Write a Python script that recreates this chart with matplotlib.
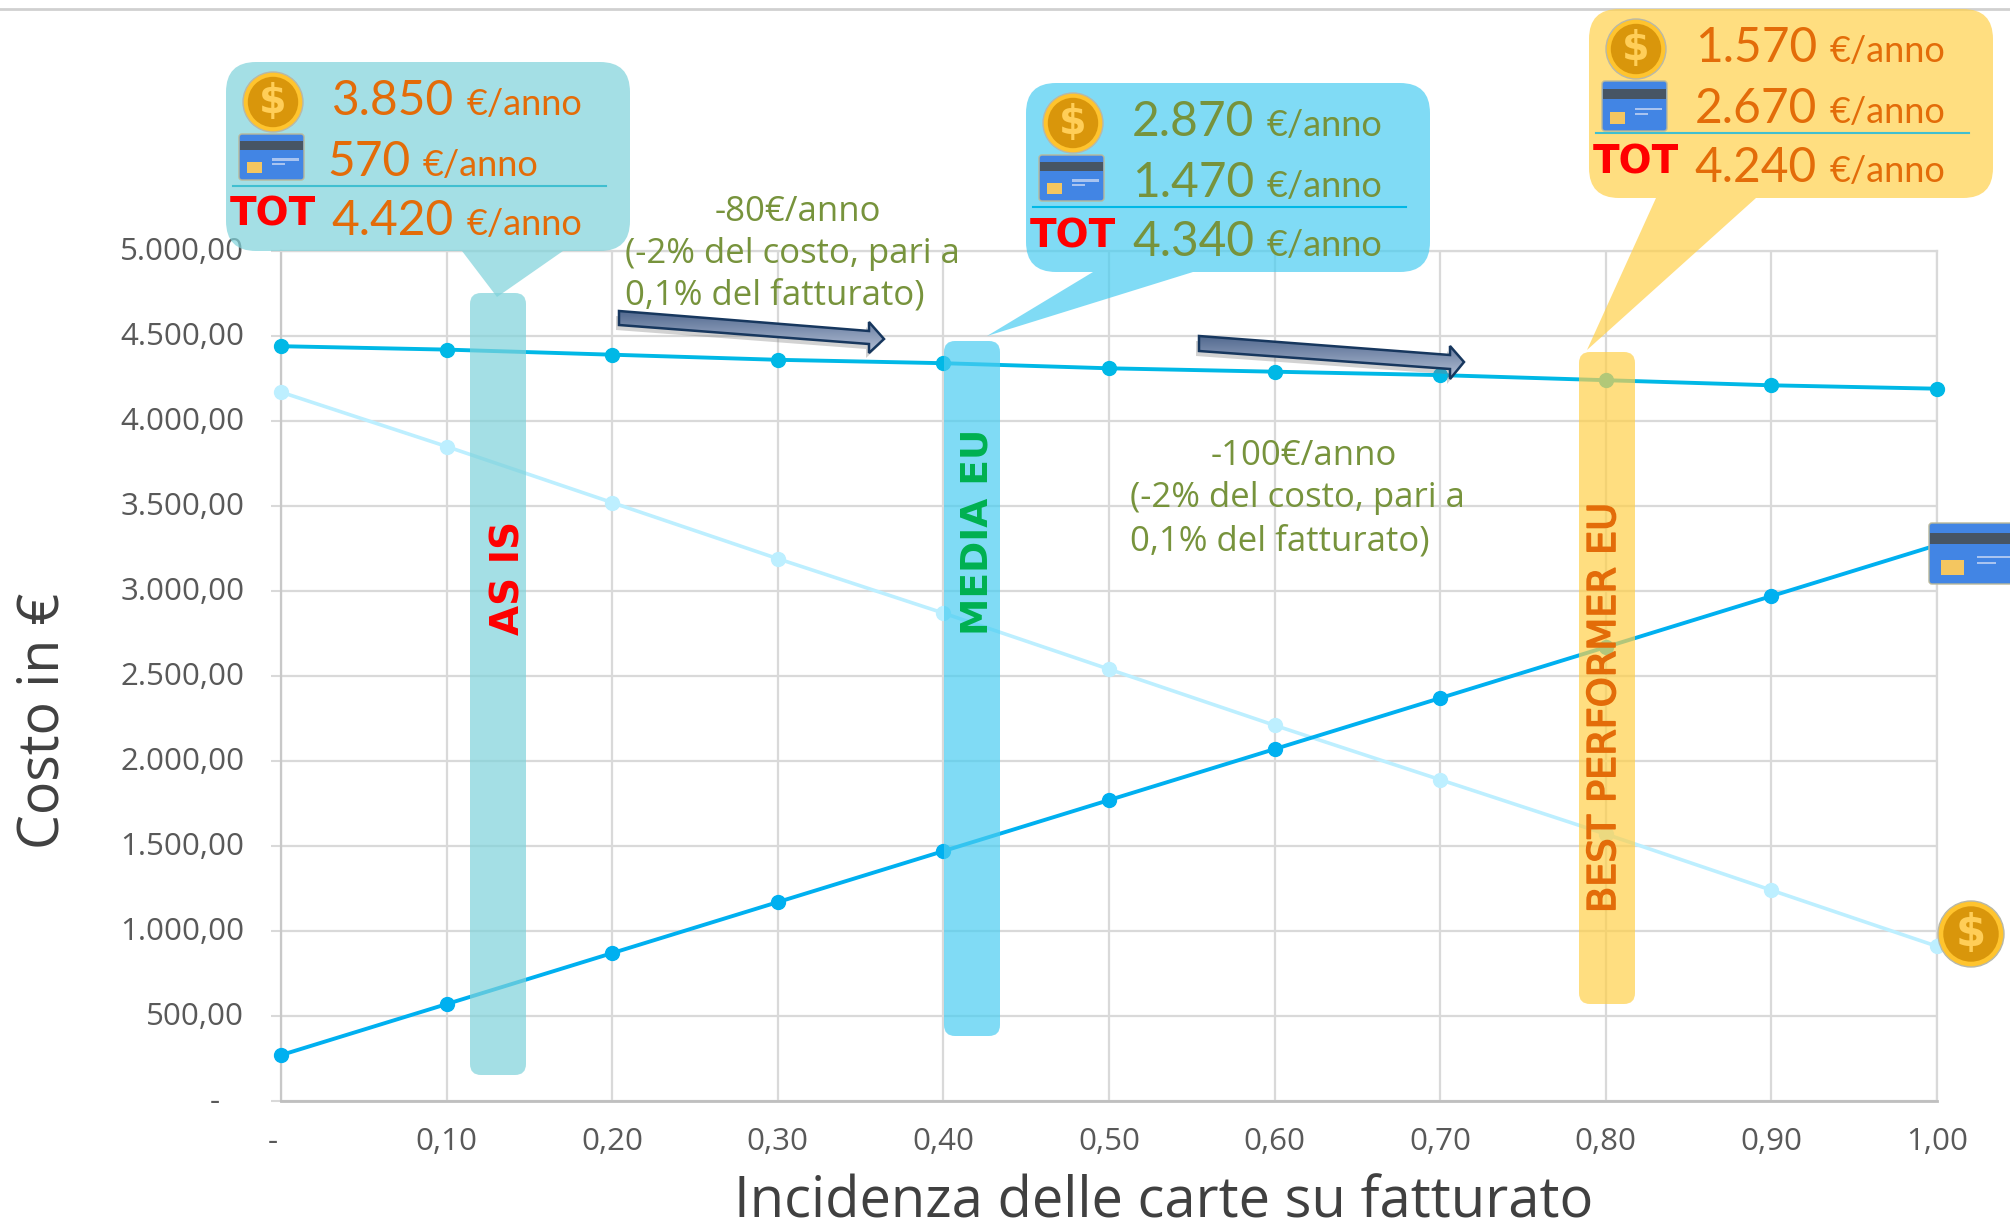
import numpy as np
import matplotlib
matplotlib.use("Agg")
import matplotlib.pyplot as plt
import matplotlib.patheffects as pe
from matplotlib.patches import Circle, FancyBboxPatch, Polygon, Rectangle
from matplotlib.transforms import ScaledTranslation

# Data
incidenza = [0, 0.10, 0.20, 0.30, 0.40, 0.50, 0.60, 0.70, 0.80, 0.90, 1.00]
costo_carte = [270, 570, 870, 1170, 1470, 1770, 2070, 2370, 2670, 2970, 3270]
costo_contanti = [4170, 3850, 3520, 3190, 2870, 2540, 2210, 1890, 1570, 1240, 910]
costo_totale = [4440, 4420, 4390, 4360, 4340, 4310, 4290, 4270, 4240, 4210, 4190]

x_ticks = [0, 0.10, 0.20, 0.30, 0.40, 0.50, 0.60, 0.70, 0.80, 0.90, 1.00]
x_labels = ["-  ", "0,10", "0,20", "0,30", "0,40", "0,50", "0,60", "0,70", "0,80", "0,90", "1,00"]
y_ticks = [0, 500, 1000, 1500, 2000, 2500, 3000, 3500, 4000, 4500, 5000]
y_labels = ["-   ", "500,00", "1.000,00", "1.500,00", "2.000,00", "2.500,00",
            "3.000,00", "3.500,00", "4.000,00", "4.500,00", "5.000,00"]

W, H = 2010, 1224
SANS = ["Open Sans", "DejaVu Sans"]
BODY = ["Lato", "DejaVu Sans"]
COMIC = ["DejaVu Sans", "Liberation Sans"]
ORANGE = "#E36C09"
GREEN = "#77933C"

fig = plt.figure(figsize=(W / 100, H / 100), dpi=100, facecolor="white")
ax = fig.add_axes([281 / W, 1 - 1101 / H, (1937 - 281) / W, 850 / H])

ax.plot(incidenza, costo_contanti, color="#BDEFFF", lw=2.6, marker="o", ms=10, clip_on=False, zorder=3)
ax.plot(incidenza, costo_totale, color="#00B8E6", lw=2.8, marker="o", ms=10, clip_on=False, zorder=4)
ax.plot(incidenza, costo_carte, color="#00B0F0", lw=2.8, marker="o", ms=10, clip_on=False, zorder=4)

ax.set_xlim(0, 1)
ax.set_ylim(0, 5000)
ax.set_xticks(x_ticks, x_labels, family=SANS, fontsize=22.5, color="#595959")
ax.set_yticks(y_ticks, y_labels, family=SANS, fontsize=22.5, color="#595959")
ax.tick_params(axis="x", length=0, pad=19)
ax.tick_params(axis="y", length=7, width=1.5, color="#D9D9D9", pad=19.5)
# y labels sit a little above their gridlines
for lab in ax.get_yticklabels():
    lab.set_transform(lab.get_transform() + ScaledTranslation(0, 2 / 72, fig.dpi_scale_trans))
ax.grid(True, color="#D9D9D9", lw=1.6)
ax.set_axisbelow(True)
for name in ["top", "right"]:
    ax.spines[name].set_color("#D9D9D9")
    ax.spines[name].set_linewidth(1.6)
ax.spines["left"].set_color("#C8C8C8")
ax.spines["left"].set_linewidth(1.6)
ax.spines["bottom"].set_color("#BFBFBF")
ax.spines["bottom"].set_linewidth(2)

# Overlay in pixels for the slide shapes
ov = fig.add_axes([0, 0, 1, 1], facecolor="none")
ov.set_xlim(0, W)
ov.set_ylim(H, 0)
ov.axis("off")


def rounded(x0, y0, x1, y1, r, color, alpha=0.7, z=5):
    ov.add_patch(FancyBboxPatch((x0 + r, y0 + r), x1 - x0 - 2 * r, y1 - y0 - 2 * r,
                                boxstyle="round,pad=%d,rounding_size=%d" % (r, r),
                                fc=color, ec="none", alpha=alpha, zorder=z))


def draw_coin(cx, cy, r, z=8):
    ov.add_patch(Circle((cx, cy), r, fc="#FFC42E", ec="#B8B8A8", lw=1, zorder=z))
    ov.add_patch(Circle((cx, cy), r * 0.84, fc="#D9960B", ec="none", zorder=z))
    ov.text(cx, cy, "$", color="#FFCE58", fontsize=r * 0.95, weight="bold", ha="center", va="center",
            family="DejaVu Sans", zorder=z + 1)


def draw_card(x, y, w, h, z=8):
    ov.add_patch(FancyBboxPatch((x + 3, y + 3), w - 6, h - 6, boxstyle="round,pad=3,rounding_size=3",
                                fc="#4285E4", ec="#B9B89A", lw=1, zorder=z))
    ov.add_patch(Rectangle((x + 1, y + h * 0.16), w - 2, h * 0.19, fc="#475564", ec="none", zorder=z))
    ov.add_patch(Rectangle((x + w * 0.13, y + h * 0.61), w * 0.23, h * 0.24, fc="#F4C660", ec="none", zorder=z))
    for off, length in [(0.55, 0.42), (0.65, 0.2)]:
        ov.add_patch(Rectangle((x + w * 0.5, y + h * off - 1), w * length, 2.5, fc="#A9C4F0", ec="none", zorder=z))


def bubble(x0, y0, color, tail, values, text_color, line_color, card_h=46):
    rounded(x0, y0, x0 + 404, y0 + 189, 30, color, z=6)
    ov.add_patch(Polygon(tail, closed=True, fc=color, ec="none", alpha=0.7, zorder=6))
    draw_coin(x0 + 47, y0 + 40, 30)
    draw_card(x0 + 13, y0 + 72, 65, card_h)
    ov.plot([x0 + 7, x0 + 380], [y0 + 124, y0 + 124], color=line_color, lw=1.5, zorder=8)
    ov.text(x0 + 47, y0 + 164, "TOT", color="#FF0000", fontsize=28, weight="bold", ha="center",
            va="baseline", family=COMIC, zorder=9)
    for base, val in zip([53, 114, 173], values):
        # the short value sits left with its unit pulled in
        shift = 44 if len(val) == 3 else 0
        ov.text(x0 + 228 - shift, y0 + base, val, color=text_color, fontsize=34.5, ha="right", va="baseline",
                family=BODY, zorder=9)
        ov.text(x0 + 241 - shift, y0 + base, "€/anno", color=text_color, fontsize=26, ha="left", va="baseline",
                family=BODY, zorder=9)


def arrow(pts, box):
    poly = Polygon(pts, closed=True, fc="none", ec="#17375E", lw=1.8, zorder=8)
    shadow = Polygon(np.array(pts) + [-3, 5], closed=True, fc="#808080", ec="none", alpha=0.35, zorder=7)
    ov.add_patch(shadow)
    ov.add_patch(poly)
    grad = np.linspace(0, 1, 64).reshape(-1, 1)
    im = ov.imshow(grad, extent=box, cmap=matplotlib.colors.LinearSegmentedColormap.from_list(
        "arr", ["#536A90", "#B4C0D6"]), aspect="auto", zorder=7.5)
    im.set_clip_path(poly)


# Vertical strips
rounded(470, 293, 526, 1075, 11, "#7ED2DA")
rounded(944, 341, 1000, 1036, 11, "#4ACDF1")
rounded(1579, 352, 1635, 1004, 11, "#FFD04A")

ov.text(509, 635, "AS IS", color="#FF0000", fontsize=28, weight="bold", rotation=90, ha="center",
        va="bottom", family=COMIC, zorder=9)
ov.text(978, 635, "MEDIA EU", color="#00B050", fontsize=27, weight="bold", rotation=90, ha="center",
        va="bottom", family=COMIC, zorder=9)
ov.text(1605, 913, "BEST PERFORMER EU", color=ORANGE, fontsize=27.5, rotation=90, ha="center",
        va="bottom", family=COMIC, zorder=9,
        path_effects=[pe.withStroke(linewidth=1.2, foreground=ORANGE)])

# Callouts
bubble(226, 62, "#7ED2DA", [(462, 251), (563, 251), (497, 297)],
       ["3.850", "570", "4.420"], ORANGE, "#40BFD0")
bubble(1026, 83, "#4ACDF1", [(1093, 272), (1193, 272), (987, 336)],
       ["2.870", "1.470", "4.340"], GREEN, "#00B8E6")
bubble(1589, 9, "#FFD04A", [(1656, 198), (1756, 198), (1587, 350)],
       ["1.570", "2.670", "4.240"], ORANGE, "#40BFD0", card_h=50)

draw_card(1929, 523, 96, 61)
draw_coin(1971, 934, 33)

# Savings notes and arrows
arrow([(619, 311), (869, 331), (869, 322), (884, 339), (869, 353), (869, 344), (619, 325)], (619, 884, 353, 311))
arrow([(1199, 336), (1450, 355), (1450, 346), (1464, 362), (1450, 379), (1450, 369), (1199, 351)], (1199, 1464, 379, 336))

for cx, y, s in [(798, 212, "-80€/anno"), (1304, 456, "-100€/anno")]:
    ov.text(cx, y, s, color=GREEN, fontsize=25, family=SANS, ha="center", va="center", zorder=9)
for x, ys in [(625, (254, 296)), (1130, (498, 541))]:
    ov.text(x, ys[0], "(-2% del costo, pari a", color=GREEN, fontsize=25, family=SANS, va="center", zorder=9)
    ov.text(x, ys[1], "0,1% del fatturato)", color=GREEN, fontsize=25, family=SANS, va="center", zorder=9)

# Axis titles and the top rule
ov.text(1164, 1217, "Incidenza delle carte su fatturato", color="#404040", fontsize=40.4, family=SANS,
        ha="center", va="baseline")
ov.text(44, 721, "Costo in €", color="#404040", fontsize=40, family=SANS, rotation=90,
        ha="center", va="center")
ov.plot([0, W], [9, 9], color="#D0D0D0", lw=2, zorder=1)

ov.set_xlim(0, W)
ov.set_ylim(H, 0)
fig.savefig("out.png", dpi=100)
